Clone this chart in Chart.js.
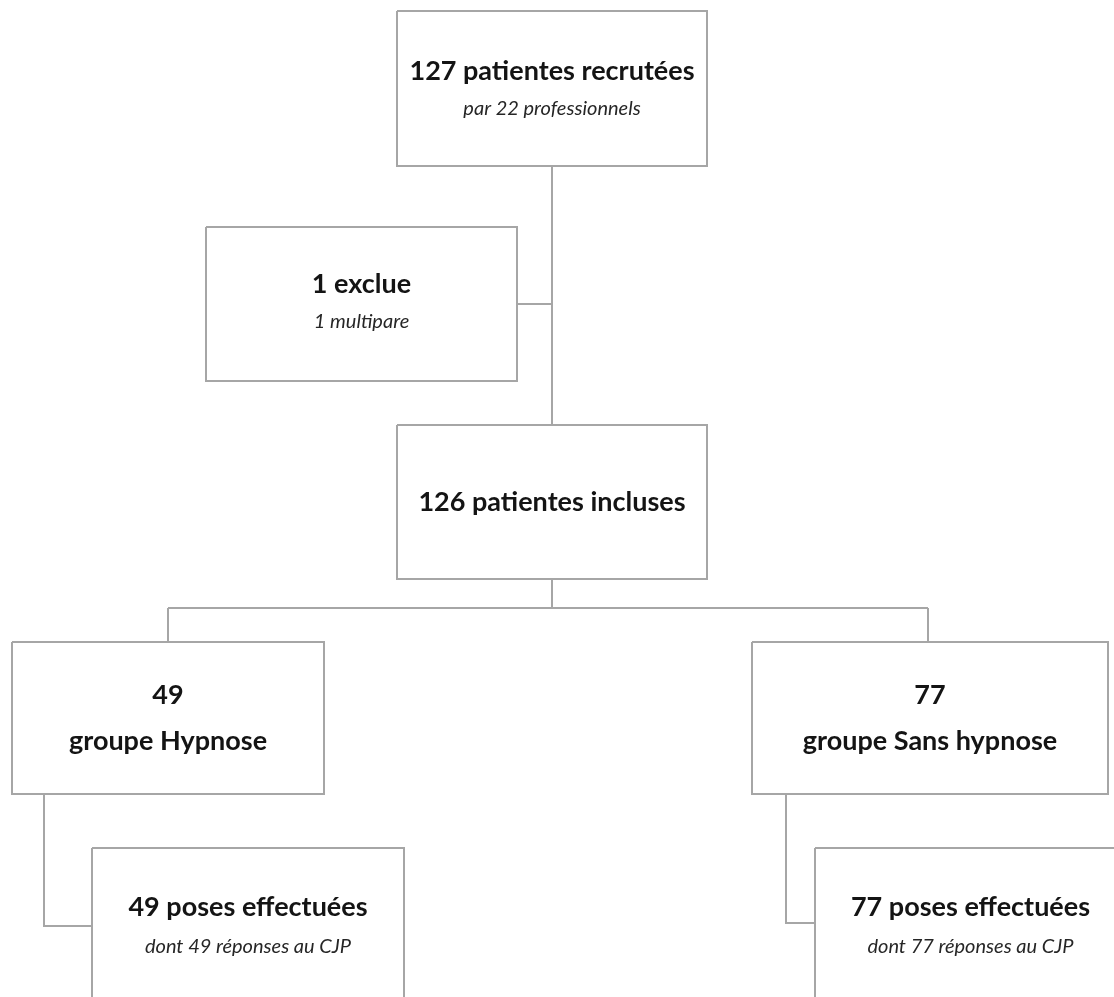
<!DOCTYPE html>
<html>
<head>
<meta charset="utf-8">
<script src="https://cdn.jsdelivr.net/npm/chart.js@4.4.1/dist/chart.umd.min.js"></script>
<style>
  body { margin: 0; background: #ffffff; }
  #flow { display: block; }
</style>
</head>
<body>
<canvas id="flow" width="1114" height="997"></canvas>
<script>
// flow counts
var recruited = 127;
var professionals = 22;
var excluded = 1;
var included = 126;
var groupHypnose = 49;
var groupSans = 77;
var posesHypnose = 49;
var posesSans = 77;

// texts of each box (bold lines, italic line)
var titles = [
    [recruited + ' patientes recrutées'],
    [excluded + ' exclue'],
    [included + ' patientes incluses'],
    [String(groupHypnose), 'groupe Hypnose'],
    [String(groupSans), 'groupe Sans hypnose'],
    [posesHypnose + ' poses effectuées'],
    [posesSans + ' poses effectuées']
];
var notes = [
    'par ' + professionals + ' professionnels',
    excluded + ' multipare',
    '',
    '',
    '',
    'dont ' + posesHypnose + ' réponses au CJP',
    'dont ' + posesSans + ' réponses au CJP'
];

// layout of the boxes: left, right, top, bottom
var boxX0 = [397, 206, 397, 12, 752, 92, 815];
var boxX1 = [707, 517, 707, 324, 1108, 404, 1126];
var boxY0 = [11, 227, 425, 642, 642, 848, 848];
var boxY1 = [166, 381, 579, 794, 794, 1010, 1010];
// middle of the text lines
var titleY = [[71], [284], [502], [695, 741], [695, 741], [907], [907]];
var noteY = [109, 322, 0, 0, 0, 947, 947];

// connector polylines
var links = [
    [[552, 166], [552, 425]],
    [[517, 304], [552, 304]],
    [[552, 579], [552, 608]],
    [[168, 608], [928, 608]],
    [[168, 608], [168, 642]],
    [[928, 608], [928, 642]],
    [[44, 794], [44, 926], [92, 926]],
    [[786, 794], [786, 923], [815, 923]]
];

var lineColor = '#a6a6a6';

function buildDatasets() {
    var sets = [];
    for (var i = 0; i < links.length; i++) {
        sets.push({
            data: links[i].map(function (p) { return { x: p[0], y: p[1] }; }),
            showLine: true,
            borderColor: lineColor,
            borderWidth: 2,
            pointRadius: 0,
            fill: false
        });
    }
    for (var b = 0; b < boxX0.length; b++) {
        sets.push({
            data: [
                { x: boxX0[b], y: boxY0[b] },
                { x: boxX1[b], y: boxY0[b] },
                { x: boxX1[b], y: boxY1[b] },
                { x: boxX0[b], y: boxY1[b] },
                { x: boxX0[b], y: boxY0[b] }
            ],
            showLine: true,
            borderColor: lineColor,
            borderWidth: 2,
            borderJoinStyle: 'miter',
            pointRadius: 0,
            fill: false
        });
    }
    return sets;
}

// writes the box texts at positions taken from the scales
var boxText = {
    id: 'boxText',
    afterDatasetsDraw: function (chart) {
        var ctx = chart.ctx;
        var sx = chart.scales.x;
        var sy = chart.scales.y;
        ctx.save();
        ctx.textAlign = 'center';
        ctx.textBaseline = 'middle';
        for (var b = 0; b < titles.length; b++) {
            var cx = sx.getPixelForValue((boxX0[b] + boxX1[b]) / 2);
            ctx.font = 'bold 27px Lato, "Open Sans", sans-serif';
            ctx.fillStyle = '#141414';
            for (var k = 0; k < titles[b].length; k++) {
                ctx.fillText(titles[b][k], cx, sy.getPixelForValue(titleY[b][k]));
            }
            if (notes[b]) {
                ctx.font = 'italic 20px Lato, "Open Sans", sans-serif';
                ctx.fillStyle = '#262626';
                ctx.fillText(notes[b], cx, sy.getPixelForValue(noteY[b]));
            }
        }
        ctx.restore();
    }
};

new Chart(document.getElementById('flow').getContext('2d'), {
    type: 'scatter',
    data: { datasets: buildDatasets() },
    options: {
        responsive: false,
        animation: false,
        layout: { padding: 0 },
        plugins: {
            legend: { display: false },
            tooltip: { enabled: false }
        },
        scales: {
            x: { type: 'linear', min: 0, max: 1114, display: false },
            y: { type: 'linear', min: 0, max: 997, reverse: true, display: false }
        }
    },
    plugins: [boxText]
});
</script>
</body>
</html>
